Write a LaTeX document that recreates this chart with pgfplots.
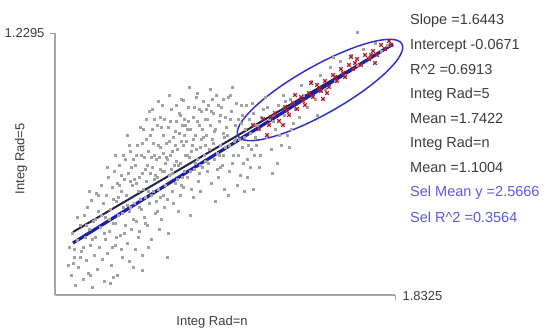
\documentclass[border=0pt]{standalone}
\usepackage{pgfplots}
\pgfplotsset{compat=1.18}
\usepackage{fontspec}
\setmainfont{Liberation Sans}
\definecolor{axgray}{RGB}{165,165,165}
\definecolor{ptgray}{RGB}{162,162,162}
\definecolor{lineblue}{RGB}{30,30,170}
\definecolor{linedark}{RGB}{35,35,75}
\definecolor{elblue}{RGB}{50,50,200}
\definecolor{txtblue}{RGB}{90,90,225}
\definecolor{txtgray}{RGB}{60,60,60}
\definecolor{redpt}{RGB}{175,30,45}
\begin{document}
\begin{tikzpicture}
\useasboundingbox (-55pt,-35pt) rectangle (500pt,295pt);
\begin{axis}[
  scale only axis, width=340pt, height=262pt,
  xmin=0, xmax=340, ymin=0, ymax=262,
  axis x line=bottom, axis y line=left,
  axis line style={axgray, line width=1.8pt, -},
  clip=false,
  xtick={340}, xticklabels={1.8325},
  ytick={262}, yticklabels={1.2295},
  tick align=outside, major tick length=5pt,
  tick style={axgray, line width=0.8pt},
  every tick label/.append style={font=\fontsize{13}{15}\selectfont, text=txtgray},
  xticklabel style={anchor=west, xshift=4pt, yshift=4pt},
  yticklabel style={xshift=-2pt},
  xlabel={Integ Rad=n}, ylabel={Integ Rad=5},
  label style={font=\fontsize{13}{15}\selectfont, text=txtgray},
  xlabel style={at={(axis description cs:0.462,-0.105)}, anchor=center},
  ylabel style={at={(axis description cs:-0.100,0.52)}, anchor=center},
]
% gray scatter
\addplot[only marks, mark=square*, mark size=1.1pt, color=ptgray, mark options={draw=ptgray, fill=ptgray}] coordinates {
(13,30)(14,48)(16,20)(17,62)(19,38)(20,10)(22,55)(23,28)(25,70)(26,44)(28,16)(29,80)(30,58)
(31,35)(32,88)(33,22)(34,66)(35,50)(36,95)(37,8)(38,74)(39,40)(40,58)(41,102)(42,26)(43,84)(44,48)(45,68)(46,110)(47,36)(48,92)(49,14)(50,78)(50,56)
(51,100)(52,42)(53,118)(54,64)(55,86)(56,30)(57,108)(58,72)(59,124)(60,50)(61,94)(62,20)(63,80)(64,130)(65,60)(66,104)(67,38)(68,88)(69,116)(70,70)(52,128)(55,12)(58,96)(61,58)(64,110)(67,82)(70,136)(60,140)(66,46)(54,76)
(71,100)(72,52)(73,122)(74,84)(75,144)(76,66)(77,110)(78,28)(79,92)(80,130)(81,74)(82,150)(83,58)(84,118)(85,96)(86,140)(87,40)(88,106)(89,78)(90,126)(72,160)(75,88)(78,136)(81,112)(84,64)(87,152)(90,98)(74,34)(80,46)(86,86)(88,166)(76,128)(83,104)(89,138)
(91,114)(92,70)(93,144)(94,92)(95,160)(96,56)(97,128)(98,104)(99,176)(100,82)(101,136)(102,118)(103,150)(104,66)(105,98)(106,168)(107,124)(108,142)(109,88)(110,110)(92,130)(94,184)(96,100)(98,152)(100,120)(102,170)(104,138)(106,76)(108,160)(110,132)(93,48)(97,166)(101,94)(105,148)(109,176)(95,122)(99,140)(103,106)(107,190)(91,156)
(111,152)(112,96)(113,168)(114,120)(115,140)(116,186)(117,104)(118,158)(119,130)(120,112)(121,174)(122,146)(123,84)(124,162)(125,132)(126,196)(127,118)(128,150)(129,176)(130,140)(112,136)(114,200)(116,126)(118,92)(120,164)(122,116)(124,182)(126,154)(128,108)(130,170)(113,62)(117,144)(121,134)(125,100)(129,124)
(131,154)(132,118)(133,188)(134,138)(135,166)(136,106)(137,150)(138,178)(139,126)(140,160)(141,198)(142,136)(143,114)(144,170)(145,148)(146,184)(147,128)(148,158)(149,140)(150,176)(132,166)(134,208)(136,144)(138,98)(140,132)(142,174)(144,122)(146,156)(148,194)(150,134)(135,80)(145,104)
(151,160)(152,124)(153,190)(154,146)(155,170)(156,112)(157,156)(158,182)(159,136)(160,166)(161,200)(162,142)(163,118)(164,174)(165,150)(166,188)(167,130)(168,162)(169,106)(170,178)(155,206)(160,94)(165,128)(152,176)(158,152)(164,140)(168,196)(170,148)
(172,160)(174,124)(176,184)(178,140)(180,170)(182,110)(184,156)(186,190)(188,132)(190,166)(192,118)(194,176)(196,146)(198,106)(200,158)(175,200)(179,154)(183,176)(187,148)(191,190)(195,128)(199,170)(173,100)(185,120)(197,192)(177,208)(189,104)
(202,170)(205,140)(208,186)(211,158)(214,176)(217,122)(220,166)(223,190)(226,150)(229,180)(232,160)(235,196)(238,172)(204,128)(210,198)(216,146)(222,132)(228,200)(234,148)(240,186)
(244,178)(248,200)(252,188)(256,214)(260,196)(265,220)(270,206)(275,228)(280,214)(285,234)(290,220)(296,240)(302,230)(308,246)(314,238)(320,252)(326,244)(332,250)(302,263)(262,180)(278,238)(246,210)
(18,32)(35,20)(58,18)(87,25)(112,38)(128,195)(142,202)(173,198)(125,180)(105,178)
(60,72)(63,98)(66,120)(69,62)(72,90)(75,114)(78,76)(81,140)(84,88)(87,122)(90,72)(93,104)(96,138)(99,116)(102,84)(105,126)(108,100)(111,138)(114,154)(117,122)(120,150)(123,130)(126,110)(129,160)(132,140)(135,124)(138,156)(141,146)(144,186)(147,166)(150,150)(153,132)(156,184)(159,164)(162,126)(165,180)(168,140)(171,168)(174,150)(177,132)(180,156)(183,140)(186,172)(189,158)(192,136)(195,162)(198,182)(201,150)
(46,80)(49,62)(43,100)(40,76)(37,56)(34,104)(31,70)(28,48)(25,38)(22,78)(19,46)(57,48)(62,112)(68,140)(74,150)(79,116)(85,168)(91,176)(97,186)(103,194)(109,124)(115,174)(121,190)(127,170)(133,174)(139,188)(145,130)(151,186)(157,196)(163,190)(169,158)(175,176)(181,192)(187,180)(193,150)(199,140)(206,178)(212,188)(218,174)(224,160)(230,194)(236,166)
};
% red selected points
\addplot[only marks, mark=x, mark size=2.6pt, redpt, line width=1.1pt] coordinates {
(198,170)(204,166)(208,176)(214,170)(220,182)(224,174)(230,188)(234,180)(238,192)(242,186)(246,198)(250,190)(254,202)(258,198)(262,210)(266,204)(270,214)(274,208)(278,220)(282,214)(286,226)(290,218)(294,230)(298,226)(302,236)(306,230)(310,240)(314,236)(318,244)(322,240)(326,250)(330,246)(334,254)(212,160)(240,200)(268,196)(296,238)(320,232)(228,170)(256,212)
(216,178)(232,184)(248,194)(264,206)(280,218)(300,232)(316,240)(336,250)(272,202)(288,222)
};
% regression lines
\addplot[linedark, line width=2pt] coordinates {(18,63) (330,246)};
\addplot[lineblue, line width=3.2pt] coordinates {(18,52) (338,251)};
% selection ellipse
\draw[elblue, line width=1.5pt, shift={(axis cs:265,205)}, rotate=29.4] (0,0) ellipse [x radius=94pt, y radius=24pt];
\end{axis}
\begin{scope}[every node/.style={anchor=west, inner sep=0pt, font=\fontsize{14.5}{16}\selectfont}]
\node[text=txtgray] at (355pt,274pt) {Slope =1.6443};
\node[text=txtgray] at (355pt,249.5pt) {Intercept -0.0671};
\node[text=txtgray] at (355pt,225pt) {R\^{}2 =0.6913};
\node[text=txtgray] at (355pt,200.5pt) {Integ Rad=5};
\node[text=txtgray] at (355pt,176pt) {Mean =1.7422};
\node[text=txtgray] at (355pt,151.5pt) {Integ Rad=n};
\node[text=txtgray] at (355pt,127pt) {Mean =1.1004};
\node[text=txtblue] at (355pt,102.5pt) {Sel Mean y =2.5666};
\node[text=txtblue] at (355pt,78pt) {Sel R\^{}2 =0.3564};
\end{scope}
\end{tikzpicture}
\end{document}
